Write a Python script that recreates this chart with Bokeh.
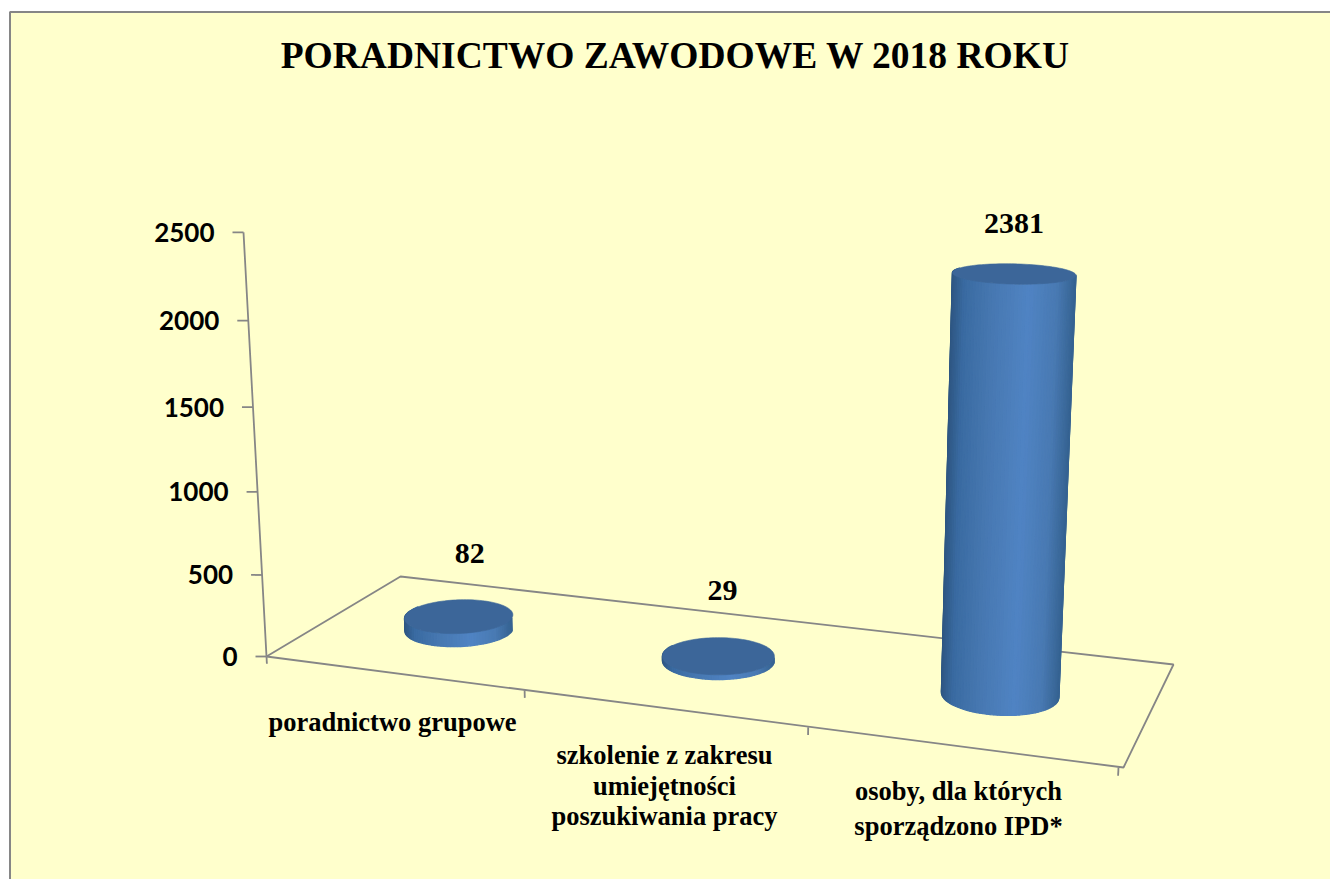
import numpy as np
from bokeh.core.properties import value
from bokeh.embed import file_html
from bokeh.models import Range1d
from bokeh.plotting import figure
from bokeh.resources import INLINE

# ---------- data ----------
title_text = "PORADNICTWO ZAWODOWE W 2018 ROKU"
categories = [["poradnictwo grupowe"],
              ["szkolenie z zakresu", "umiejętności", "poszukiwania pracy"],
              ["osoby, dla których", "sporządzono IPD*"]]
values = [82, 29, 2381]
y_ticks = [0, 500, 1000, 1500, 2000, 2500]
y_max = 2500

# ---------- 3D camera (page pixels) ----------
floor_A, floor_B, floor_C, floor_D = (266, 656), (400, 576), (1173, 664), (1123, 767)
vanish = np.array([721.0, 9050.0, 1.0])
vscale = -0.0481
n_cat = len(values)

src = np.array([[0, 0], [0, 1], [1, 1], [1, 0]], float)
dst = np.array([floor_A, floor_B, floor_C, floor_D], float)
M, b = [], []
for (u, v), (X, Y) in zip(src, dst):
    M.append([u, v, 1, 0, 0, 0, -u * X, -v * X]); b.append(X)
    M.append([0, 0, 0, u, v, 1, -u * Y, -v * Y]); b.append(Y)
h = np.linalg.solve(np.array(M), np.array(b))
H = np.array([[h[0], h[1], h[2]], [h[3], h[4], h[5]], [h[6], h[7], 1.0]])


def project(cat, depth, val):
    """cat in category units (0..n), depth 0..1, val in data units."""
    cat, depth, val = np.broadcast_arrays(np.asarray(cat, float), np.asarray(depth, float), np.asarray(val, float))
    p = (H[:, 0:1] * (cat / n_cat).ravel() + H[:, 1:2] * depth.ravel() + H[:, 2:3]
         + vanish[:, None] * vscale * (val.ravel() / y_max))
    return p[0] / p[2], p[1] / p[2]


# ---------- figure ----------
p = figure(width=1330, height=879, output_backend="svg", toolbar_location=None,
           x_range=Range1d(0, 1330), y_range=Range1d(879, 0),
           x_axis_type=None, y_axis_type=None, min_border=0)
p.outline_line_color = None
p.background_fill_color = "white"
p.border_fill_color = "white"
p.grid.visible = False

BG, AXIS = "#FFFFCC", "#868686"
p.quad(left=[9.5], right=[1345], top=[11.5], bottom=[895], fill_color=BG, line_color=AXIS, line_width=2)

TIMES, SANS = value("Liberation Serif"), value("Lato")

p.text([675], [55], text=[title_text], text_font=TIMES, text_font_style="bold", text_font_size="37.5px",
       text_align="center", text_baseline="middle", text_color="black")

# floor
fx, fy = project([0, 0, n_cat, n_cat, 0], [0, 1, 1, 0, 0], [0] * 5)
p.line(fx, fy, line_color=AXIS, line_width=1.8)

# value axis
ax, ay = project(0, 0, np.array(y_ticks, float))
p.line(ax, ay, line_color=AXIS, line_width=1.8)
p.segment(ax - 11, ay, ax, ay, line_color=AXIS, line_width=1.8)
p.text(ax - 29, ay, text=[str(t) for t in y_ticks], text_font=SANS, text_font_style="bold",
       text_font_size="26px", text_align="right", text_baseline="middle", text_color="black")

# category ticks
tu = np.arange(n_cat + 1, dtype=float)
tick_shift = np.array([0, 3, 4, 5])
tx0, ty0 = project(tu, 0, 0)
tx1, ty1 = project(tu, 0, -45)
p.segment(tx0 - tick_shift, ty0, tx1 - tick_shift, ty1, line_color=AXIS, line_width=1.8)

# ---------- cylinders ----------
RU, RV = 0.195, 0.195
theta = np.linspace(0, 2 * np.pi, 121)
side_t = np.linspace(np.pi - 0.25, 2 * np.pi + 0.25, 61)
STOPS = [0.0, 0.10, 0.32, 0.62, 0.85, 1.0]
C_R = [0x2e, 0x3a, 0x47, 0x50, 0x49, 0x36]
C_G = [0x56, 0x6b, 0x78, 0x84, 0x7a, 0x63]
C_B = [0x82, 0xa2, 0xb1, 0xc4, 0xb3, 0x92]
TOP = "#3c6699"

for i, val in enumerate(values):
    cu = i + 0.5
    cd = 0.5
    bx, by = project(cu + RU * np.cos(side_t), cd + RV * np.sin(side_t), 0)
    ux, uy = project(cu + RU * np.cos(side_t), cd + RV * np.sin(side_t), val)
    for j in range(len(side_t) - 1):
        t = ((bx[j] + bx[j + 1]) / 2 - bx.min()) / (bx.max() - bx.min())
        col = "#%02x%02x%02x" % (int(np.interp(t, STOPS, C_R)), int(np.interp(t, STOPS, C_G)), int(np.interp(t, STOPS, C_B)))
        p.patch([bx[j], bx[j + 1], ux[j + 1], ux[j]], [by[j], by[j + 1], uy[j + 1], uy[j]],
                fill_color=col, line_color=col, line_width=1.2)
    ex, ey = project(cu + RU * np.cos(theta), cd + RV * np.sin(theta), val)
    p.patch(ex, ey, fill_color=TOP, line_color=TOP, line_width=0.6)

# value labels
label_dy = [-63, -65, -50]
label_dx = [11, 4, 0]
vx, vy = project(np.arange(n_cat) + 0.5, 0.5, values)
p.text(vx + np.array(label_dx), vy + np.array(label_dy), text=[str(v) for v in values],
       text_font=TIMES, text_font_style="bold", text_font_size="30px", text_align="center",
       text_baseline="middle", text_color="black")

# category labels
cat_x = [392, 664, 958]
cat_y = [[721], [754, 785, 815], [790, 825]]
for lines, x, ys in zip(categories, cat_x, cat_y):
    p.text([x] * len(lines), ys, text=lines, text_font=TIMES, text_font_style="bold", text_font_size="26.5px",
           text_align="center", text_baseline="middle", text_color="black")

open("out.html", "w").write(file_html(p, INLINE))
